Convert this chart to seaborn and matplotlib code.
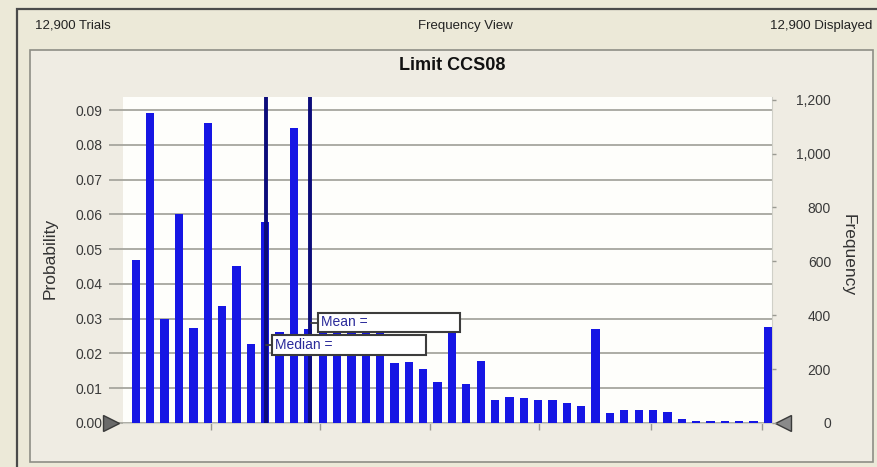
import matplotlib
matplotlib.use("Agg")
import matplotlib.pyplot as plt
from matplotlib.patches import Rectangle
from matplotlib.ticker import FuncFormatter
import numpy as np
import pandas as pd
import seaborn as sns

# ---- data -------------------------------------------------------------
trials = 12900
displayed = 12900
title = "Limit CCS08"

# probability of each histogram bin (left axis); frequency = probability * trials
probability = [
    0.0469, 0.0891, 0.0298, 0.0601, 0.0274, 0.0864, 0.0338, 0.0452, 0.0227, 0.0578,
    0.0262, 0.0849, 0.0270, 0.0262, 0.0262, 0.0262, 0.0262, 0.0265, 0.0173, 0.0176,
    0.0155, 0.0117, 0.0258, 0.0112, 0.0179, 0.0066, 0.0075, 0.0071, 0.0066, 0.0066,
    0.0057, 0.0049, 0.0270, 0.0028, 0.0037, 0.0037, 0.0037, 0.0033, 0.0011, 0.0006,
    0.0006, 0.0006, 0.0007, 0.0007, 0.0277,
]
bins = list(range(len(probability)))

# location of the summary statistics, in bin units
median_bin = 9.05
mean_bin = 12.12

prob_ticks = [0.00, 0.01, 0.02, 0.03, 0.04, 0.05, 0.06, 0.07, 0.08, 0.09]
freq_ticks = [0, 200, 400, 600, 800, 1000, 1200]
value_ticks = [5.22, 12.81, 20.47, 28.06, 35.86, 43.59]

df = pd.DataFrame({"bin": bins, "probability": probability})

# ---- style ------------------------------------------------------------
sns.set_style("white")
plt.rcParams["font.family"] = ["Liberation Sans", "DejaVu Sans"]

W, H = 878, 467
fig = plt.figure(figsize=(W / 100, H / 100), dpi=100)
fig.patch.set_facecolor("#ece9d8")


def fx(px):
    return px / W


def fy(py):
    return 1 - py / H


# window frame and chart panel
fig.add_artist(Rectangle((fx(17), fy(470)), fx(880 - 17), (470 - 9) / H,
                         transform=fig.transFigure, facecolor="#ece9d8",
                         edgecolor="#4a4a4a", lw=1.6, zorder=0))
fig.add_artist(Rectangle((fx(30), fy(462)), fx(873 - 30), (462 - 50) / H,
                         transform=fig.transFigure, facecolor="#efece3",
                         edgecolor="#8e8e86", lw=1.2, zorder=0))

# header texts
hdr_y = fy(26)
fig.text(fx(35), hdr_y, f"{trials:,} Trials", ha="left", va="center",
         fontsize=9.5, color="#222222")
fig.text(fx(465), hdr_y, "Frequency View", ha="center", va="center",
         fontsize=9.5, color="#222222")
fig.text(fx(872), hdr_y, f"{displayed:,} Displayed", ha="right", va="center",
         fontsize=9.5, color="#222222")

fig.text(fx(452), fy(65), title, ha="center", va="center", fontsize=13,
         fontweight="bold", color="#111111")

# ---- plot area ---------------------------------------------------------
ax_left, ax_right, ax_top, ax_bottom = 123, 772, 97, 423
ax = fig.add_axes([fx(ax_left), fy(ax_bottom), fx(ax_right - ax_left),
                   (ax_bottom - ax_top) / H])
ax.set_facecolor("#fefefb")

bar_color = "#1616e4"
sns.barplot(data=df, x="bin", y="probability", color=bar_color, width=0.58,
            saturation=1, edgecolor="none", ax=ax, zorder=3)

ymax = 0.0938
ax.set_ylim(0, ymax)
ax.set_xlim(-0.9, 44.28)

ax.set_yticks(prob_ticks)
ax.yaxis.set_major_formatter(FuncFormatter(lambda v, _: f"{v:.2f}"))
ax.yaxis.grid(True, color="#a6a69e", lw=1.3, zorder=1)
ax.set_axisbelow(True)
ax.tick_params(axis="y", which="major", left=True, length=10, width=1.3,
               color="#a6a69e", pad=5, labelsize=10, labelcolor="#3a3a3a")

ax.set_xticks(value_ticks)
ax.set_xticklabels([])
ax.tick_params(axis="x", bottom=True, length=5, width=1, color="#9a9a92",
               direction="out")
ax.set_xlabel("")
ax.set_ylabel("")

for side, sp in ax.spines.items():
    sp.set_visible(side in ("right", "bottom"))
    sp.set_color("#d0d0c8")
    sp.set_linewidth(0.8)

# median and mean markers
line_color = "#0c0c7a"
ax.axvline(median_bin, color=line_color, lw=2.8, zorder=4)
ax.axvline(mean_bin, color=line_color, lw=2.8, zorder=4)


def stat_box(x0, x1, y0, y1, line_x, label):
    # boxes are given in pixel coordinates of the figure, converted to axes fractions
    ax0 = (x0 - ax_left) / (ax_right - ax_left)
    ax1 = (x1 - ax_left) / (ax_right - ax_left)
    ay0 = (ax_bottom - y1) / (ax_bottom - ax_top)
    ay1 = (ax_bottom - y0) / (ax_bottom - ax_top)
    lx = (line_x - ax_left) / (ax_right - ax_left)
    ax.add_patch(Rectangle((ax0, ay0), ax1 - ax0, ay1 - ay0, transform=ax.transAxes,
                           facecolor="white", edgecolor="#3c3c3c", lw=1.5, zorder=6,
                           clip_on=False))
    ax.plot([lx, ax0], [(ay0 + ay1) / 2] * 2, transform=ax.transAxes,
            color="#3c3c3c", lw=1.3, zorder=6, clip_on=False)
    ax.text(ax0 + 0.004, (ay0 + ay1) / 2, label, transform=ax.transAxes,
            ha="left", va="center", fontsize=10, color="#2a2a9a", zorder=7)


stat_box(318, 460, 313, 332, 311, "Mean =")
stat_box(272, 426, 335, 355, 266, "Median =")

# range grabbers at both ends of the value axis
ax.plot([-0.0185], [0], marker=">", markersize=11, color="#6a6a6a",
        markeredgecolor="#3a3a3a", transform=ax.transAxes, clip_on=False, zorder=8)
ax.plot([1.017], [0], marker="<", markersize=11, color="#8a8a8a",
        markeredgecolor="#3a3a3a", transform=ax.transAxes, clip_on=False, zorder=8)

# frequency axis on the right
ax2 = ax.twinx()
ax2.set_ylim(0, ymax * trials)
ax2.set_yticks(freq_ticks)
ax2.yaxis.set_major_formatter(FuncFormatter(lambda v, _: f"{int(v):,}"))
ax2.tick_params(axis="y", right=True, length=3, width=1, color="#9a9a92",
                pad=39.5, labelsize=10, labelcolor="#3a3a3a")
for lbl in ax2.get_yticklabels():
    lbl.set_horizontalalignment("right")
for sp in ax2.spines.values():
    sp.set_visible(False)
ax2.grid(False)

fig.text(fx(50), fy(258), "Probability", rotation=90, ha="center", va="center",
         fontsize=12.5, color="#333333")
fig.text(fx(848), fy(255), "Frequency", rotation=270, ha="center", va="center",
         fontsize=12.5, color="#333333")

fig.savefig("out.png", dpi=100, facecolor=fig.get_facecolor())
